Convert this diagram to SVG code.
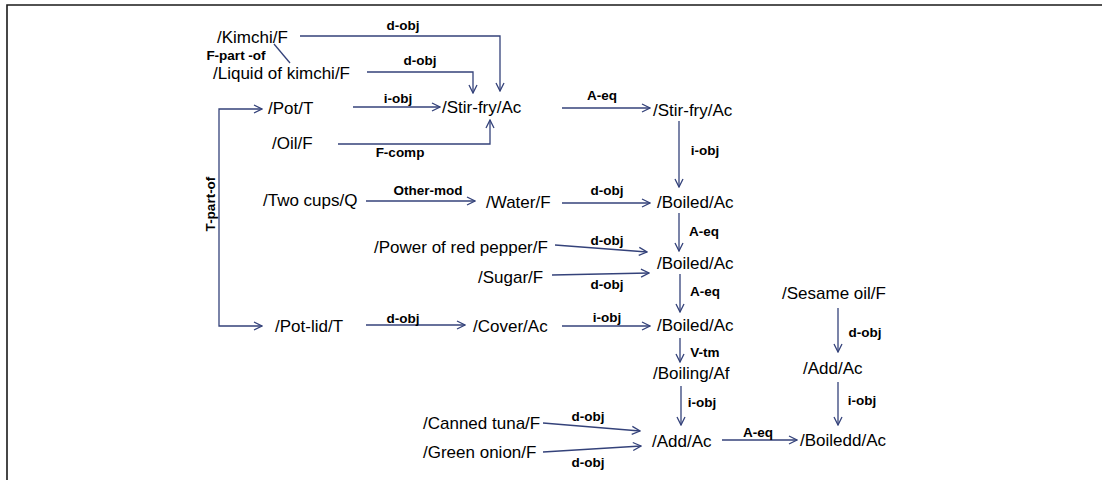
<svg xmlns="http://www.w3.org/2000/svg" width="1102" height="480" viewBox="0 0 1102 480">
<style>
.n{font-family:"Liberation Sans",Arial,sans-serif;font-size:17px;fill:#000;dominant-baseline:central}
.l{font-family:"Liberation Sans",Arial,sans-serif;font-size:13.5px;font-weight:bold;fill:#000;dominant-baseline:central;text-anchor:middle}
.e{fill:none;stroke:#34427a;stroke-width:1.3}
.a{marker-end:url(#ah)}
</style>
<defs>
<marker id="ah" viewBox="0 0 10 10" refX="9" refY="5" markerWidth="10" markerHeight="10" markerUnits="userSpaceOnUse" orient="auto">
<path d="M1,1 L9,5 L1,9" fill="none" stroke="#34427a" stroke-width="1.3"/>
</marker>
</defs>
<rect width="1102" height="480" fill="#fff"/>
<path d="M7,480 V5 H1102" fill="none" stroke="#1a1a1a" stroke-width="1.6"/>
<g id="connectors">
<path class="e a" d="M300,36 H500 V91"/>
<path class="e a" d="M367,72 H473 V93"/>
<path class="e" d="M274,44 L290,63"/>
<path class="e a" d="M353,107 H440"/>
<path class="e a" d="M338,144 H490 V120"/>
<path class="e a" d="M562,108 H650"/>
<path class="e a" d="M679,121 V187"/>
<path class="e a" d="M219,206 V109 H262"/>
<path class="e a" d="M219,206 V326 H262"/>
<path class="e a" d="M366,201 H475"/>
<path class="e a" d="M562,203 H650"/>
<path class="e a" d="M679,213 V251"/>
<path class="e a" d="M555,245 L647,252"/>
<path class="e a" d="M552,275 L649,273"/>
<path class="e a" d="M680,274 V312"/>
<path class="e a" d="M366,325 H465"/>
<path class="e a" d="M562,326 H650"/>
<path class="e a" d="M680,338 V362"/>
<path class="e a" d="M681,386 V425"/>
<path class="e a" d="M543,423 L640,431"/>
<path class="e a" d="M543,452 L641,446"/>
<path class="e a" d="M722,440 H797"/>
<path class="e a" d="M838,308 V352"/>
<path class="e a" d="M838,382 V425"/>
</g>
<g id="edge-labels">
<text class="l" x="403" y="25">d-obj</text>
<text class="l" x="236" y="55">F-part -of</text>
<text class="l" x="420" y="60">d-obj</text>
<text class="l" x="398" y="98">i-obj</text>
<text class="l" x="400" y="152">F-comp</text>
<text class="l" x="602" y="95">A-eq</text>
<text class="l" x="705" y="150">i-obj</text>
<text class="l" transform="translate(210,204) rotate(-90)" x="0" y="0">T-part-of</text>
<text class="l" x="428" y="190">Other-mod</text>
<text class="l" x="607" y="190">d-obj</text>
<text class="l" x="704" y="231">A-eq</text>
<text class="l" x="607" y="240">d-obj</text>
<text class="l" x="607" y="284">d-obj</text>
<text class="l" x="705" y="291">A-eq</text>
<text class="l" x="403" y="318">d-obj</text>
<text class="l" x="607" y="317">i-obj</text>
<text class="l" x="705" y="352">V-tm</text>
<text class="l" x="702" y="402">i-obj</text>
<text class="l" x="588" y="416">d-obj</text>
<text class="l" x="588" y="462">d-obj</text>
<text class="l" x="758" y="432">A-eq</text>
<text class="l" x="865" y="332">d-obj</text>
<text class="l" x="862" y="400">i-obj</text>
</g>
<g id="n-kimchi"><text class="n" x="217" y="37">/Kimchi/F</text></g>
<g id="n-liquid"><text class="n" x="213" y="73">/Liquid of kimchi/F</text></g>
<g id="n-pot"><text class="n" x="268" y="108">/Pot/T</text></g>
<g id="n-oil"><text class="n" x="272" y="143">/Oil/F</text></g>
<g id="n-stirfry1"><text class="n" x="442" y="107">/Stir-fry/Ac</text></g>
<g id="n-stirfry2"><text class="n" x="653" y="110">/Stir-fry/Ac</text></g>
<g id="n-twocups"><text class="n" x="263" y="200">/Two cups/Q</text></g>
<g id="n-water"><text class="n" x="486" y="202">/Water/F</text></g>
<g id="n-boiled1"><text class="n" x="657" y="202">/Boiled/Ac</text></g>
<g id="n-power"><text class="n" x="374" y="247">/Power of red pepper/F</text></g>
<g id="n-sugar"><text class="n" x="478" y="277">/Sugar/F</text></g>
<g id="n-boiled2"><text class="n" x="657" y="263">/Boiled/Ac</text></g>
<g id="n-potlid"><text class="n" x="275" y="326">/Pot-lid/T</text></g>
<g id="n-cover"><text class="n" x="473" y="326">/Cover/Ac</text></g>
<g id="n-boiled3"><text class="n" x="657" y="325">/Boiled/Ac</text></g>
<g id="n-boiling"><text class="n" x="653" y="373">/Boiling/Af</text></g>
<g id="n-canned"><text class="n" x="423" y="423">/Canned tuna/F</text></g>
<g id="n-green"><text class="n" x="423" y="452">/Green onion/F</text></g>
<g id="n-add1"><text class="n" x="652" y="441">/Add/Ac</text></g>
<g id="n-sesame"><text class="n" x="782" y="293">/Sesame oil/F</text></g>
<g id="n-add2"><text class="n" x="803" y="368">/Add/Ac</text></g>
<g id="n-boiledd"><text class="n" x="800" y="440">/Boiledd/Ac</text></g>
</svg>
